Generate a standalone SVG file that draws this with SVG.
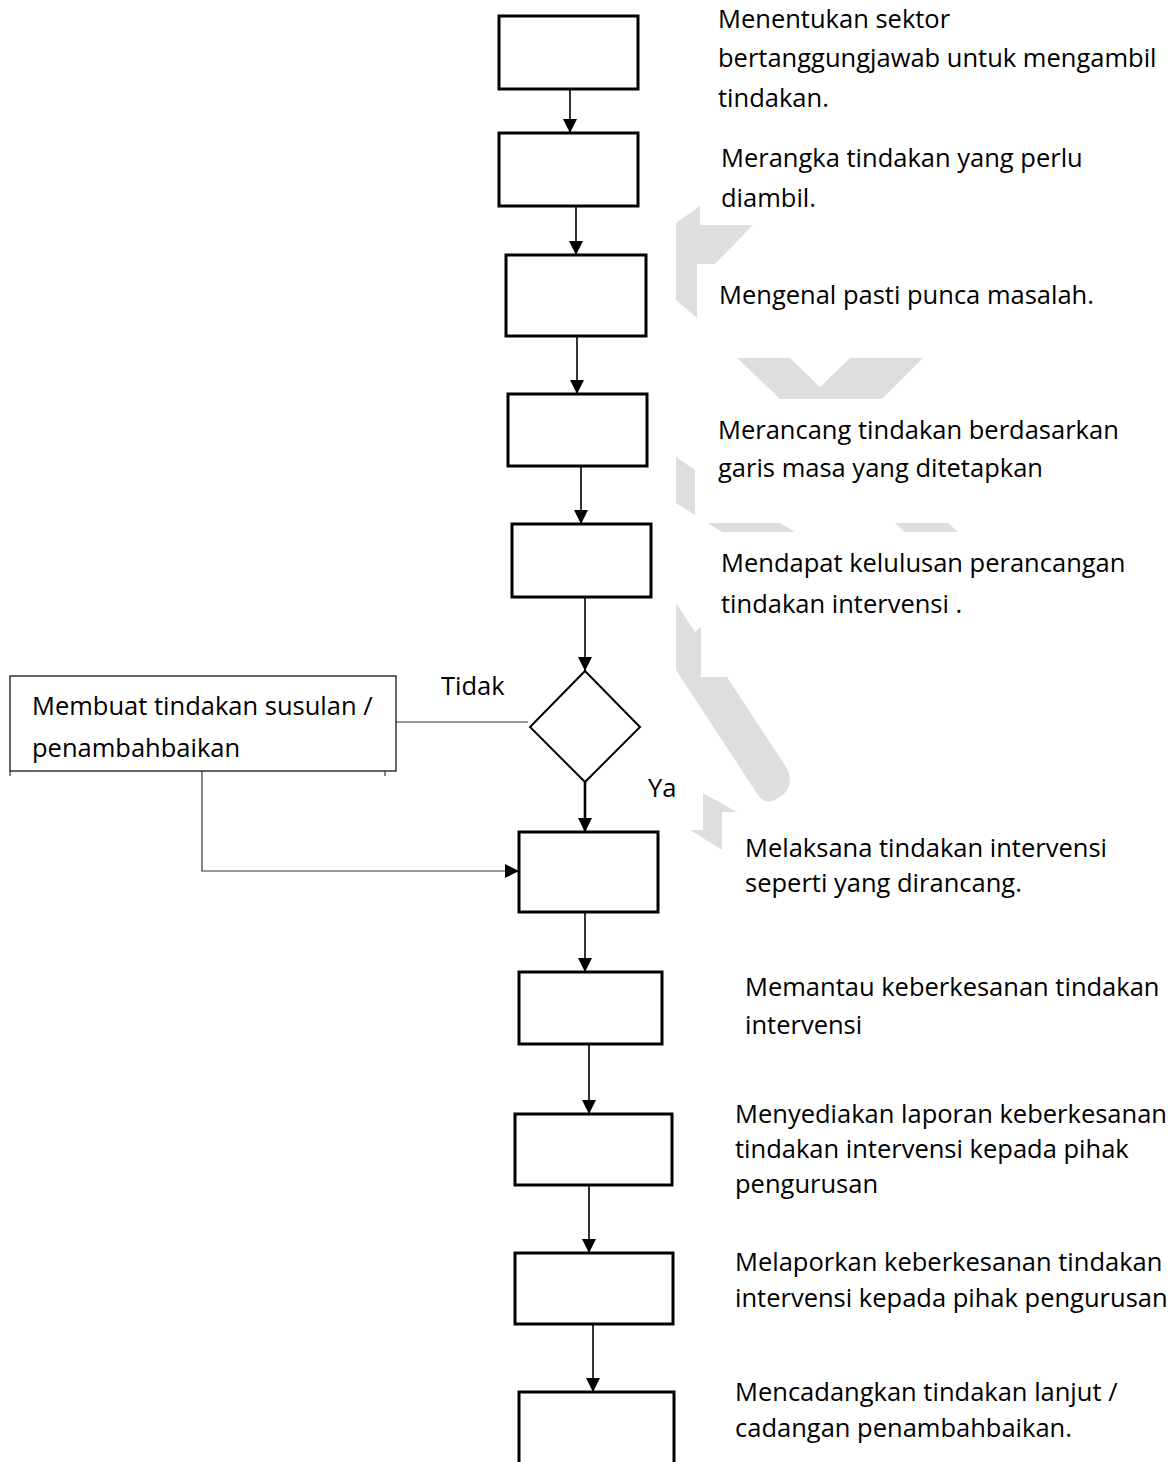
<svg xmlns="http://www.w3.org/2000/svg" width="1174" height="1462" viewBox="0 0 1174 1462">
<style>
  .bx { fill: #fff; stroke: #000; stroke-width: 3; }
  .thin { fill: #fff; stroke: #000; stroke-width: 1.2; }
  .dm { fill: #fff; stroke: #000; stroke-width: 2; }
  .cn { fill: none; stroke: #000; stroke-width: 1.6; }
  .fb { fill: none; stroke: #333; stroke-width: 1.2; }
  .wm { fill: #dedede; stroke: none; }
  text { font-family: "Open Sans", "Noto Sans", "Liberation Sans", sans-serif; font-size: 25.5px; fill: #000; }
</style>
<defs>
  <marker id="ah" markerUnits="userSpaceOnUse" markerWidth="14" markerHeight="14" refX="14" refY="7" orient="auto">
    <path d="M0,0 L14,7 L0,14 z" fill="#000"/>
  </marker>
</defs>
<rect width="1174" height="1462" fill="#fff"/>

<g id="watermark">
  <polygon class="wm" points="700,206 700,225 753,225 715,264 697,264 697,318 676,300 676,223"/>
  <polygon class="wm" points="737,358 780,399 882,399 923,358 850,358 820,387 790,358"/>
  <polygon class="wm" points="676,457 695,470 695,515 676,503"/>
  <polygon class="wm" points="708,523 780,523 795,532 722,532"/>
  <polygon class="wm" points="895,523 948,523 958,532 905,532"/>
  <path class="wm" d="M676,603 L695,632 L701,627 L701,677 L727,677 L788,770 Q795,790 775,800 Q765,805 758,795 L676,670 Z"/>
  <polygon class="wm" points="703,793 737,812 722,812 722,850 690,830 703,830"/>
</g>

<g id="connectors">
  <line class="cn" x1="570" y1="89" x2="570" y2="133" marker-end="url(#ah)"/>
  <line class="cn" x1="576" y1="206" x2="576" y2="255" marker-end="url(#ah)"/>
  <line class="cn" x1="577" y1="336" x2="577" y2="394" marker-end="url(#ah)"/>
  <line class="cn" x1="581" y1="466" x2="581" y2="524" marker-end="url(#ah)"/>
  <line class="cn" x1="585" y1="597" x2="585" y2="671" marker-end="url(#ah)"/>
  <line class="cn" style="stroke-width:2.6" x1="585" y1="772" x2="585" y2="832" marker-end="url(#ah)"/>
  <line class="cn" x1="585" y1="912" x2="585" y2="972" marker-end="url(#ah)"/>
  <line class="cn" x1="589" y1="1044" x2="589" y2="1114" marker-end="url(#ah)"/>
  <line class="cn" x1="589" y1="1185" x2="589" y2="1253" marker-end="url(#ah)"/>
  <line class="cn" x1="593" y1="1324" x2="593" y2="1392" marker-end="url(#ah)"/>
  <line class="fb" x1="396" y1="722" x2="528" y2="722"/>
  <polyline class="fb" points="202,771 202,871 519,871" marker-end="url(#ah)"/>
</g>

<g id="n1"><rect class="bx" x="499" y="16" width="139" height="73"/>
  <text x="718" y="28">Menentukan sektor</text>
  <text x="718" y="67">bertanggungjawab untuk mengambil</text>
  <text x="718" y="107">tindakan.</text></g>
<g id="n2"><rect class="bx" x="499" y="133" width="139" height="73"/>
  <text x="721" y="167">Merangka tindakan yang perlu</text>
  <text x="721" y="207">diambil.</text></g>
<g id="n3"><rect class="bx" x="506" y="255" width="140" height="81"/>
  <text x="719" y="304">Mengenal pasti punca masalah.</text></g>
<g id="n4"><rect class="bx" x="508" y="394" width="139" height="72"/>
  <text x="718" y="439">Merancang tindakan berdasarkan</text>
  <text x="718" y="477">garis masa yang ditetapkan</text></g>
<g id="n5"><rect class="bx" x="512" y="524" width="139" height="73"/>
  <text x="721" y="572">Mendapat kelulusan perancangan</text>
  <text x="721" y="613">tindakan intervensi .</text></g>
<g id="d1"><polygon class="dm" points="585,671 640,727 585,782 530,727"/>
  <text x="441" y="695">Tidak</text>
  <text x="648" y="797">Ya</text></g>
<g id="n_left"><rect class="thin" x="10" y="676" width="386" height="95"/>
  <line class="fb" x1="10" y1="771" x2="10" y2="776"/>
  <line class="fb" x1="385" y1="771" x2="385" y2="776"/>
  <text x="32" y="715">Membuat tindakan susulan /</text>
  <text x="32" y="757">penambahbaikan</text></g>
<g id="n6"><rect class="bx" x="519" y="832" width="139" height="80"/>
  <text x="745" y="857">Melaksana tindakan intervensi</text>
  <text x="745" y="892">seperti yang dirancang.</text></g>
<g id="n7"><rect class="bx" x="519" y="972" width="143" height="72"/>
  <text x="745" y="996">Memantau keberkesanan tindakan</text>
  <text x="745" y="1034">intervensi</text></g>
<g id="n8"><rect class="bx" x="515" y="1114" width="157" height="71"/>
  <text x="735" y="1123">Menyediakan laporan keberkesanan</text>
  <text x="735" y="1158">tindakan intervensi kepada pihak</text>
  <text x="735" y="1193">pengurusan</text></g>
<g id="n9"><rect class="bx" x="515" y="1253" width="158" height="71"/>
  <text x="735" y="1271">Melaporkan keberkesanan tindakan</text>
  <text x="735" y="1307">intervensi kepada pihak pengurusan</text></g>
<g id="n10"><path class="bx" d="M519,1470 V1392 H674 V1470"/>
  <text x="735" y="1401">Mencadangkan tindakan lanjut /</text>
  <text x="735" y="1437">cadangan penambahbaikan.</text></g>
</svg>
